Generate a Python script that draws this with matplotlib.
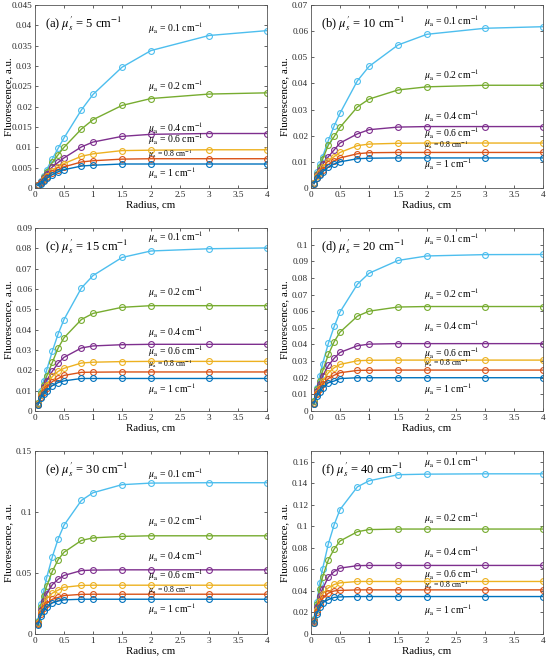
import numpy as np
import matplotlib
matplotlib.use('Agg')
import matplotlib.pyplot as plt

plt.rcParams['font.family'] = ['Liberation Serif', 'DejaVu Serif']
plt.rcParams['mathtext.fontset'] = 'stix'

radius = [0.05, 0.1, 0.15, 0.2, 0.3, 0.4, 0.5, 0.8, 1.0, 1.5, 2.0, 3.0, 4.0]
mua_labels = ['0.1', '0.2', '0.4', '0.6', '0.8', '1']
mus_values = [5, 10, 15, 20, 30, 40]
panel_tags = ['a', 'b', 'c', 'd', 'e', 'f']

# MATLAB default colour order, ordered mu_a = 0.1 ... 1
colors = ['#4dbeee', '#77ac30', '#7e2f8e', '#edb120', '#d95319', '#0072bd']

# fluorescence, one list per mu_a (0.1, 0.2, 0.4, 0.6, 0.8, 1)
fl_a = [
    [0.0008, 0.0016, 0.0030, 0.0045, 0.0072, 0.0098, 0.0123, 0.0192, 0.0230, 0.0297, 0.0338, 0.0375, 0.0387],
    [0.0008, 0.0015, 0.0028, 0.0040, 0.0063, 0.0082, 0.0100, 0.0145, 0.0168, 0.0203, 0.0220, 0.0231, 0.0234],
    [0.0007, 0.0014, 0.0025, 0.0035, 0.0052, 0.0063, 0.0074, 0.0101, 0.0113, 0.0127, 0.0132, 0.0134, 0.0134],
    [0.0007, 0.0013, 0.0022, 0.0030, 0.0043, 0.0052, 0.0060, 0.0078, 0.0084, 0.0092, 0.0093, 0.0094, 0.0094],
    [0.0007, 0.0012, 0.0020, 0.0027, 0.0038, 0.0045, 0.0052, 0.0064, 0.0067, 0.0071, 0.0072, 0.0072, 0.0072],
    [0.0006, 0.0011, 0.0018, 0.0024, 0.0033, 0.0040, 0.0045, 0.0054, 0.0056, 0.0059, 0.0059, 0.0059, 0.0059],
]
fl_b = [
    [0.0020, 0.0060, 0.0090, 0.0120, 0.0182, 0.0238, 0.0286, 0.0410, 0.0465, 0.0547, 0.0588, 0.0611, 0.0617],
    [0.0020, 0.0055, 0.0080, 0.0110, 0.0165, 0.0197, 0.0232, 0.0310, 0.0340, 0.0375, 0.0387, 0.0393, 0.0393],
    [0.0020, 0.0050, 0.0070, 0.0090, 0.0120, 0.0146, 0.0172, 0.0207, 0.0223, 0.0233, 0.0235, 0.0235, 0.0235],
    [0.0018, 0.0045, 0.0060, 0.0080, 0.0105, 0.0120, 0.0136, 0.0162, 0.0168, 0.0171, 0.0172, 0.0172, 0.0172],
    [0.0017, 0.0040, 0.0055, 0.0070, 0.0090, 0.0104, 0.0115, 0.0131, 0.0135, 0.0136, 0.0136, 0.0136, 0.0136],
    [0.0016, 0.0037, 0.0050, 0.0062, 0.0080, 0.0092, 0.0100, 0.0112, 0.0114, 0.0115, 0.0115, 0.0115, 0.0115],
]
fl_c = [
    [0.0040, 0.0100, 0.0150, 0.0200, 0.0295, 0.0380, 0.0450, 0.0605, 0.0666, 0.0755, 0.0787, 0.0798, 0.0802],
    [0.0040, 0.0090, 0.0130, 0.0170, 0.0240, 0.0310, 0.0360, 0.0450, 0.0480, 0.0510, 0.0518, 0.0518, 0.0518],
    [0.0035, 0.0080, 0.0120, 0.0150, 0.0196, 0.0236, 0.0264, 0.0310, 0.0320, 0.0326, 0.0328, 0.0328, 0.0328],
    [0.0035, 0.0080, 0.0110, 0.0130, 0.0170, 0.0195, 0.0210, 0.0236, 0.0240, 0.0243, 0.0244, 0.0244, 0.0244],
    [0.0030, 0.0070, 0.0095, 0.0115, 0.0145, 0.0160, 0.0175, 0.0190, 0.0191, 0.0192, 0.0192, 0.0192, 0.0192],
    [0.0030, 0.0065, 0.0085, 0.0100, 0.0125, 0.0140, 0.0148, 0.0160, 0.0160, 0.0160, 0.0160, 0.0160, 0.0160],
]
fl_d = [
    [0.0060, 0.0140, 0.0210, 0.0285, 0.0407, 0.0508, 0.0595, 0.0762, 0.0828, 0.0905, 0.0932, 0.0940, 0.0941],
    [0.0060, 0.0130, 0.0180, 0.0240, 0.0340, 0.0417, 0.0474, 0.0570, 0.0600, 0.0625, 0.0628, 0.0628, 0.0628],
    [0.0050, 0.0120, 0.0160, 0.0210, 0.0274, 0.0317, 0.0352, 0.0392, 0.0402, 0.0405, 0.0405, 0.0405, 0.0405],
    [0.0050, 0.0110, 0.0140, 0.0180, 0.0230, 0.0260, 0.0280, 0.0302, 0.0305, 0.0306, 0.0306, 0.0306, 0.0306],
    [0.0045, 0.0100, 0.0130, 0.0160, 0.0195, 0.0215, 0.0230, 0.0244, 0.0245, 0.0246, 0.0246, 0.0246, 0.0246],
    [0.0045, 0.0090, 0.0115, 0.0140, 0.0170, 0.0180, 0.0195, 0.0200, 0.0200, 0.0200, 0.0200, 0.0200, 0.0200],
]
fl_e = [
    [0.0110, 0.0250, 0.0350, 0.0460, 0.0635, 0.0780, 0.0892, 0.1095, 0.1158, 0.1224, 0.1237, 0.1240, 0.1240],
    [0.0100, 0.0220, 0.0310, 0.0390, 0.0515, 0.0610, 0.0670, 0.0767, 0.0788, 0.0800, 0.0805, 0.0805, 0.0805],
    [0.0090, 0.0200, 0.0270, 0.0330, 0.0405, 0.0450, 0.0480, 0.0520, 0.0524, 0.0526, 0.0526, 0.0526, 0.0526],
    [0.0090, 0.0180, 0.0240, 0.0290, 0.0335, 0.0360, 0.0383, 0.0398, 0.0400, 0.0400, 0.0400, 0.0400, 0.0400],
    [0.0080, 0.0160, 0.0210, 0.0250, 0.0285, 0.0300, 0.0315, 0.0325, 0.0326, 0.0326, 0.0326, 0.0326, 0.0326],
    [0.0075, 0.0150, 0.0190, 0.0220, 0.0255, 0.0270, 0.0280, 0.0285, 0.0285, 0.0285, 0.0285, 0.0285, 0.0285],
]
fl_f = [
    [0.0140, 0.0300, 0.0470, 0.0606, 0.0839, 0.1016, 0.1156, 0.1367, 0.1423, 0.1480, 0.1485, 0.1488, 0.1488],
    [0.0130, 0.0280, 0.0420, 0.0530, 0.0690, 0.0790, 0.0864, 0.0950, 0.0970, 0.0975, 0.0975, 0.0975, 0.0975],
    [0.0120, 0.0250, 0.0350, 0.0420, 0.0530, 0.0580, 0.0612, 0.0635, 0.0637, 0.0637, 0.0637, 0.0637, 0.0637],
    [0.0110, 0.0220, 0.0310, 0.0370, 0.0430, 0.0460, 0.0475, 0.0488, 0.0488, 0.0488, 0.0488, 0.0488, 0.0488],
    [0.0100, 0.0200, 0.0280, 0.0330, 0.0380, 0.0400, 0.0405, 0.0410, 0.0410, 0.0410, 0.0410, 0.0410, 0.0410],
    [0.0100, 0.0190, 0.0250, 0.0290, 0.0320, 0.0340, 0.0345, 0.0348, 0.0348, 0.0348, 0.0348, 0.0348, 0.0348],
]
all_data = [fl_a, fl_b, fl_c, fl_d, fl_e, fl_f]

y_max = [0.045, 0.07, 0.09, 0.11, 0.15, 0.17]
y_step = [0.005, 0.01, 0.01, 0.01, 0.05, 0.02]
y_tick_max = [0.045, 0.07, 0.09, 0.10, 0.15, 0.16]

# label heights (data units) for the mu_a annotations
label_y = [
    [0.0393, 0.0250, 0.0147, 0.0121, 0.0084, 0.0037],
    [0.0639, 0.0433, 0.0276, 0.0208, 0.0162, 0.0092],
    [0.0854, 0.0583, 0.0390, 0.0295, 0.0231, 0.0107],
    [0.1033, 0.0705, 0.0508, 0.0346, 0.0285, 0.0132],
    [0.1310, 0.0925, 0.0640, 0.0485, 0.0356, 0.0205],
    [0.1600, 0.1078, 0.0763, 0.0551, 0.0450, 0.0217],
]

W, H = 551, 663
fig = plt.figure(figsize=(W / 100, H / 100), dpi=100)

col_left = [35, 311]
row_top = [5, 228, 451]
ax_w, ax_h = 232, 183

def fmt(v):
    s = ('%.3f' % v).rstrip('0').rstrip('.')
    return s

for k in range(6):
    r, c = k // 2, k % 2
    left = col_left[c] / W
    bottom = 1 - (row_top[r] + ax_h) / H
    ax = fig.add_axes([left, bottom, ax_w / W, ax_h / H])
    data = all_data[k]
    for i in range(6):
        ax.plot(radius, data[i], '-o', color=colors[i], lw=1.0, ms=4.2,
                mfc='none', mew=0.8)
        fs = 5.6 if mua_labels[i] == '0.8' else 7.0
        ax.text(1.95, label_y[k][i],
                r'$\mu_{\rm a}$ = %s cm$^{-1}$' % mua_labels[i],
                fontsize=fs, ha='left', va='center')
    ax.text(0.045, 0.90, r"(%s) $\mu_s^{\prime}$ = %d cm$^{-1}$" % (panel_tags[k], mus_values[k]),
            transform=ax.transAxes, fontsize=9, ha='left', va='center')
    ax.set_xlim(0, 4)
    ax.set_ylim(0, y_max[k])
    ax.set_xticks(np.arange(0, 4.01, 0.5))
    ax.set_xticklabels([fmt(v) for v in np.arange(0, 4.01, 0.5)])
    yt = np.arange(0, y_tick_max[k] + 1e-9, y_step[k])
    ax.set_yticks(yt)
    ax.set_yticklabels([fmt(v) for v in yt])
    ax.tick_params(direction='in', top=True, right=True, labelsize=6.6,
                   length=2.5, width=0.5, pad=2, colors='#262626')
    for sp in ax.spines.values():
        sp.set_linewidth(0.6)
        sp.set_color('#555555')
    ax.set_xlabel('Radius, cm', fontsize=7.8, labelpad=1)
    ax.set_ylabel('Fluorescence, a.u.', fontsize=7.8)
    ax.yaxis.set_label_coords(-0.095, 0.5)

plt.savefig('out.png', dpi=100)
